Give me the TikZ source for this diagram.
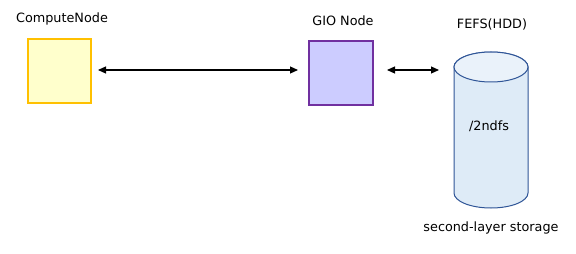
\documentclass[tikz,border=0pt]{standalone}
\usepackage{fontspec}
\setmainfont{DejaVu Sans}
\usetikzlibrary{arrows.meta}
\definecolor{cfill}{HTML}{FFFFCC}
\definecolor{cdraw}{HTML}{FFC000}
\definecolor{gfill}{HTML}{CCCCFF}
\definecolor{gdraw}{HTML}{7030A0}
\definecolor{sfill}{HTML}{DEEBF7}
\definecolor{stop}{HTML}{EAF2FA}
\definecolor{sdraw}{HTML}{2F5597}
\tikzset{
  lbl/.style={font=\fontsize{12.8}{15}\selectfont, inner sep=0pt},
  biarrow/.style={{Triangle[length=8pt,width=7pt]}-{Triangle[length=8pt,width=7pt]}, line width=1.1pt},
}
\begin{document}
\begin{tikzpicture}[x=1pt,y=-1pt]
\useasboundingbox (0,0) rectangle (576,254);
\node[draw=cdraw, fill=cfill, line width=1.2pt, minimum width=63pt, minimum height=64pt, inner sep=0pt] (cn) at (59.5,71) {};
\node[draw=gdraw, fill=gfill, line width=1.2pt, minimum width=64pt, minimum height=64pt, inner sep=0pt] (gio) at (341,73) {};
\node[lbl] (cnl) at (62,19) {ComputeNode};
\node[lbl] (giol) at (343,21) {GIO Node};
\node[lbl] (fefsl) at (492,24) {FEFS(HDD)};
% cylinder
\coordinate (ctop) at (491,67);
\coordinate (cbot) at (491,193);
\filldraw[draw=sdraw, fill=sfill, line width=1pt]
  (454,67) -- (454,193) arc[start angle=180, end angle=0, x radius=37, y radius=15]
  -- (528,67) arc[start angle=360, end angle=180, x radius=37, y radius=15] -- cycle;
\filldraw[draw=sdraw, fill=stop, line width=1pt] (ctop) ellipse[x radius=37, y radius=15];
\node[lbl] (fs) at (489,126) {/2ndfs};
\node[lbl] (sls) at (491,228) {second-layer storage};
\coordinate (a1) at (98,70);
\coordinate (a2) at (298,70);
\coordinate (b1) at (387,70);
\coordinate (b2) at (439,70);
\draw[biarrow] (a1) -- (a2);
\draw[biarrow] (b1) -- (b2);
\end{tikzpicture}
\end{document}
